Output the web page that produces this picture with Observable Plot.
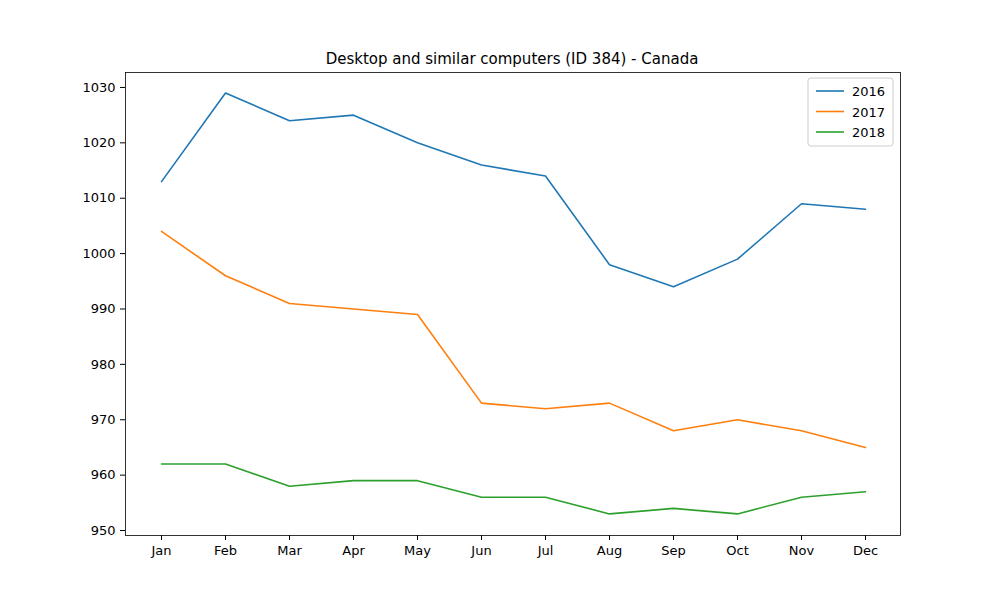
<!DOCTYPE html>
<html>
<head>
<meta charset="utf-8">
<script src="https://cdn.jsdelivr.net/npm/d3@7"></script>
<script src="https://cdn.jsdelivr.net/npm/@observablehq/plot@0.6"></script>
<style>
  body { margin: 0; background: #fff; }
  svg { font-family: "DejaVu Sans", sans-serif; }
</style>
</head>
<body>
<div id="chart"></div>
<script>
const months = ["Jan", "Feb", "Mar", "Apr", "May", "Jun", "Jul", "Aug", "Sep", "Oct", "Nov", "Dec"];
const years = ["2016", "2017", "2018"];
const colors = ["#1f77b4", "#ff7f0e", "#2ca02c"];
const v2016 = [1013, 1029, 1024, 1025, 1020, 1016, 1014, 998, 994, 999, 1009, 1008];
const v2017 = [1004, 996, 991, 990, 989, 973, 972, 973, 968, 970, 968, 965];
const v2018 = [962, 962, 958, 959, 959, 956, 956, 953, 954, 953, 956, 957];
const yTicks = [950, 960, 970, 980, 990, 1000, 1010, 1020, 1030];

// long table for Plot
let data = [];
[v2016, v2017, v2018].forEach((vals, i) => {
  vals.forEach((v, j) => data.push({month: months[j], year: years[i], value: v}));
});

let chart = Plot.plot({
  width: 1000,
  height: 600,
  marginLeft: 125,
  marginRight: 100,
  marginTop: 72,
  marginBottom: 65,
  style: {fontSize: "13px", fontFamily: "DejaVu Sans, sans-serif", color: "#000"},
  x: {type: "point", domain: months, padding: 0.55, label: null},
  y: {domain: [949.1, 1032.7], label: null},
  color: {domain: years, range: colors},
  marks: [
    Plot.frame({stroke: "#000", strokeWidth: 0.8}),
    Plot.line(data, {x: "month", y: "value", z: "year", stroke: "year", strokeWidth: 1.6}),
    Plot.axisX({tickSize: 5, tickPadding: 5, fontSize: 13}),
    Plot.axisY({ticks: yTicks, tickFormat: d => String(d), tickSize: 5, tickPadding: 5, fontSize: 13})
  ]
});

const svg = d3.select(chart);
svg.append("text")
  .attr("x", 512).attr("y", 64)
  .attr("text-anchor", "middle")
  .attr("font-size", 15)
  .attr("fill", "#000")
  .text("Desktop and similar computers (ID 384) - Canada");

// legend, upper right
const lg = svg.append("g").attr("transform", "translate(808,78)").attr("text-anchor", "start");
lg.append("rect").attr("width", 85).attr("height", 68).attr("rx", 3)
  .attr("fill", "#fff").attr("fill-opacity", 0.8).attr("stroke", "#ccc");
years.forEach((y, i) => {
  const yy = 13 + i * 20.5;
  lg.append("line").attr("x1", 8).attr("x2", 36).attr("y1", yy).attr("y2", yy)
    .attr("stroke", colors[i]).attr("stroke-width", 1.6);
  lg.append("text").attr("x", 44).attr("y", yy + 5).attr("font-size", 13)
    .attr("text-anchor", "start")
    .attr("fill", "#000").text(y);
});

d3.select('#chart').append(() => chart);
</script>
</body>
</html>
